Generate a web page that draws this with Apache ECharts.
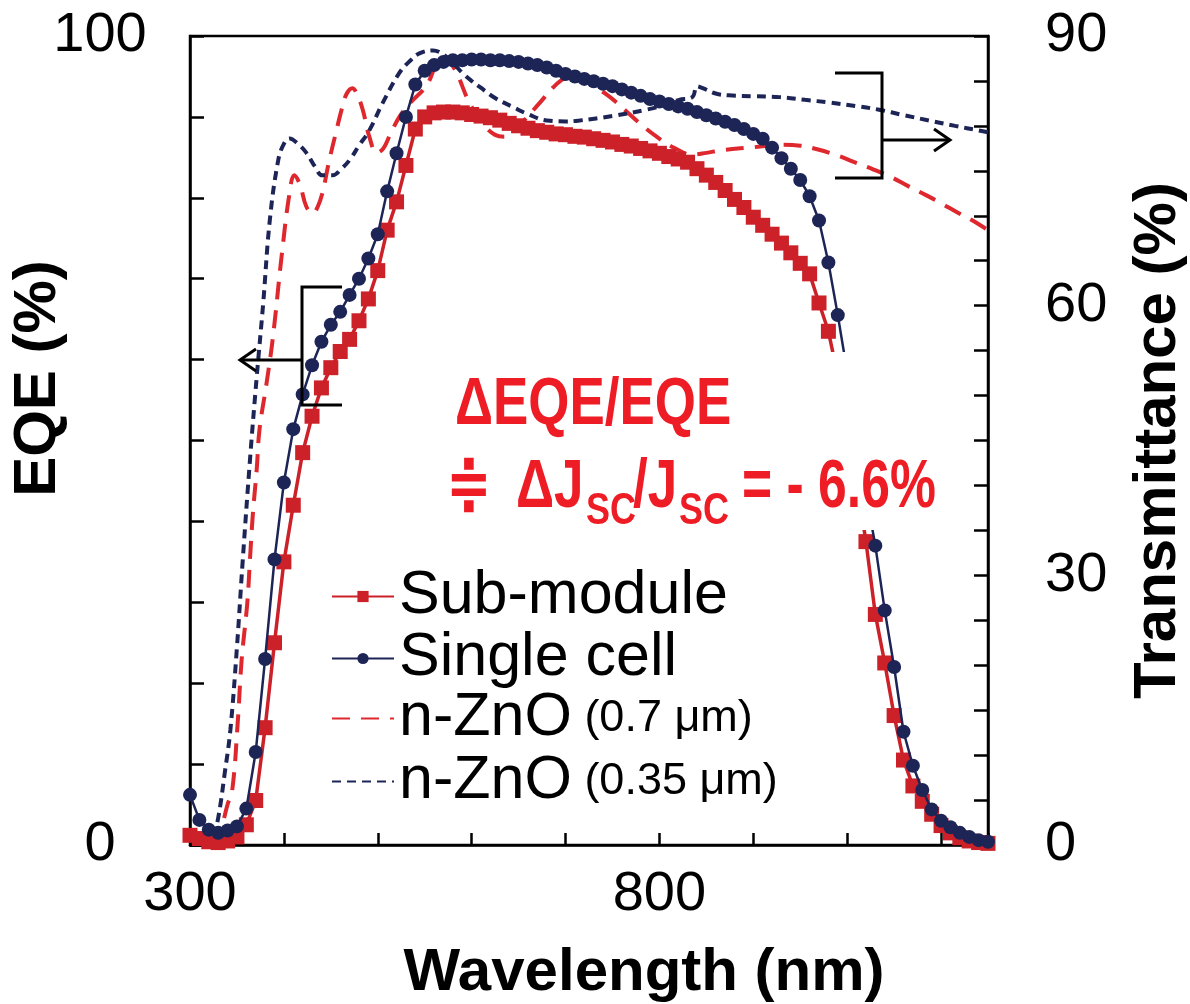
<!DOCTYPE html>
<html><head><meta charset="utf-8">
<script src="https://cdn.jsdelivr.net/npm/echarts/dist/echarts.min.js"></script>
<style>html,body{margin:0;padding:0;background:#fff}#c{width:1190px;height:1004px}</style>
</head><body><div id="c"></div>
<script>
// ---- data ----
const wavelength = [300,310,320,330,340,350,360,370,380,390,
  400,410,420,430,440,450,460,470,480,490,
  500,510,520,530,540,550,560,570,580,590,
  600,610,620,630,640,650,660,670,680,690,
  700,710,720,730,740,750,760,770,780,790,
  800,810,820,830,840,850,860,870,880,890,
  900,910,920,930,940,950,960,970,980,990,
  1000,1010,1020,1030,1040,1050,1060,1070,1080,1090,
  1100,1110,1120,1130,1140,1150];
const eqeSubModule = [1.2,0.8,0.4,0.3,0.5,1.0,2.5,5.5,14.5,25.0,
  35.0,42.0,48.5,53.0,56.5,59.0,61.0,62.5,64.8,67.5,
  71.0,76.0,79.5,84.0,88.5,90.0,90.5,90.6,90.6,90.5,
  90.3,90.1,89.9,89.6,89.2,88.9,88.6,88.3,88.1,87.9,
  87.8,87.6,87.5,87.3,87.1,86.9,86.6,86.4,86.1,85.8,
  85.5,85.1,84.8,84.4,83.6,82.8,81.9,80.9,79.8,78.8,
  77.6,76.6,75.5,74.4,73.2,71.9,70.6,67.0,63.5,58.0,
  52.0,45.0,37.5,28.5,22.5,16.0,10.5,7.3,5.4,3.8,
  2.4,1.5,0.9,0.5,0.3,0.2];
const eqeSingleCell = [6.2,3.1,1.9,1.5,1.8,2.3,4.5,11.5,23.0,35.3,
  44.8,51.4,55.7,59.3,62.2,64.3,65.9,68.0,70.0,72.5,
  75.5,80.8,85.5,90.0,94.0,95.7,96.4,96.8,97.0,97.0,
  97.1,97.1,97.0,97.0,96.9,96.8,96.6,96.4,96.1,95.7,
  95.3,95.0,94.7,94.4,94.1,93.8,93.4,93.0,92.6,92.2,
  91.9,91.6,91.3,91.0,90.6,90.2,89.8,89.4,89.0,88.5,
  87.9,87.3,86.2,84.9,83.6,82.2,80.2,77.2,72.0,65.5,
  58.5,51.0,43.5,37.0,29.0,22.0,14.0,9.8,6.8,4.4,
  3.0,2.2,1.5,1.0,0.6,0.4];
// transmittance curves: [wavelength nm, T %]
const transZnO07 = [[322,0.3],[330,1],[335,2.5],[340,4.5],[345,6.1],[351,13.9],[355,20.6],[361,26.9],[364,32],[367,36.9],[371,41.7],[374,46.2],[381,51],[388,56.2],[398,65.9],[406,72.5],[411,74.5],[417,73.5],[424,71],[431,70.3],[436,71],[441,72.5],[448,76],[456,79.5],[462,82],[467,83.6],[473,84.2],[478,83.5],[484,81.8],[491,78.8],[499,77],[506,77.5],[513,79],[523,81],[534,82.5],[552,84.5],[562,86.8],[569,87.7],[576,87.2],[584,85.9],[598,82.5],[614,80],[625,79],[635,78.8],[650,80],[672,82.5],[687,84.3],[699,85.3],[710,85.5],[722,84.9],[745,83.4],[765,81.6],[780,80.2],[797,78.8],[815,77.6],[835,76.8],[850,77],[866,77.3],[898,77.6],[930,77.9],[950,77.8],[968,77.4],[990,76.7],[1007,76],[1027,75.2],[1047,74.3],[1065,73.3],[1084,72.3],[1100,71.4],[1117,70.4],[1135,69.4],[1150,68.4]];
const transZnO035 = [[310,0.2],[318,0.5],[325,1.2],[330,3],[337,8],[343,12.8],[350,22],[356,31.4],[364,43],[371,52],[378,60.3],[385,69.5],[394,76.2],[400,78],[406,78.6],[415,78],[424,77],[433,75.5],[441,74.5],[452,74.5],[461,75.2],[470,76.2],[480,77.8],[491,79.5],[505,82.5],[523,85.9],[535,87.3],[545,88.1],[559,88.4],[566,88.2],[573,87.7],[582,86.8],[590,85.9],[600,85],[609,84.3],[625,83.1],[644,82.1],[660,81.3],[680,80.6],[700,80.5],[715,80.6],[750,81.1],[786,81.8],[805,82.3],[821,82.9],[835,83.2],[840,84.4],[846,84.2],[860,83.6],[874,83.4],[900,83.3],[928,83.2],[955,82.9],[981,82.6],[1010,82.2],[1034,81.8],[1060,81.2],[1087,80.6],[1115,80],[1140,79.5],[1150,79.3]];
const seriesNames = ['Sub-module','Single cell','n-ZnO (0.7 μm)','n-ZnO (0.35 μm)'];
const wlLabels = [300, 800];
const eqeLabels = [0, 100];
const transLabels = [0, 30, 60, 90];

// ---- styles ----
const RED = '#cc2129', NAVY = '#1d2456', DRED = '#de282e', ANN = '#ee1c25';
const FF = '"Liberation Sans", Arial, sans-serif';
const chart = echarts.init(document.getElementById('c'), null, {renderer: 'canvas'});
const axisLineStyle = {color: '#000', width: 2.5};
const tickFont = {color: '#000', fontSize: 56, fontFamily: FF};
const annText = (txt, x, y, size, sx, family) => ({
  type: 'text', z: 101, x: x, y: y, scaleX: sx, originX: 0, originY: 0,
  style: {text: txt, fill: ANN, fontSize: size, fontWeight: 'bold', fontFamily: family || FF, verticalAlign: 'middle', align: 'left'}
});
const legendText = {fontSize: 61, color: '#000', fontFamily: FF,
  rich: {a: {fontSize: 61, color: '#000', fontFamily: FF}, b: {fontSize: 45, color: '#000', fontFamily: FF}}};
const legendFmt = function (name) {
  const m = name.match(/^(n-ZnO)\s(\(.*\))$/);
  return m ? '{a|' + m[1] + '}{b| ' + m[2] + '}' : '{a|' + name + '}';
};
const legendTops = [561, 623, 683, 746];
const legends = seriesNames.map((n, i) => ({
  orient: 'vertical', left: 326, top: legendTops[i], itemWidth: 62, itemHeight: 14,
  data: [i < 2 ? {name: n} : {name: n, itemStyle: {opacity: 0}}],
  textStyle: legendText, formatter: legendFmt, selectedMode: false
}));

chart.setOption({
  animation: false,
  backgroundColor: '#fff',
  textStyle: {fontFamily: FF},
  grid: {left: 190, right: 202, top: 36, bottom: 159, show: true, borderColor: '#000', borderWidth: 2.5, backgroundColor: 'transparent', containLabel: false, outerBoundsMode: 'none'},
  legend: legends,
  xAxis: {
    type: 'value', min: 300, max: 1150, interval: 100,
    name: 'Wavelength (nm)', nameLocation: 'middle', nameGap: 98,
    nameTextStyle: {fontSize: 60, fontWeight: 'bold', color: '#000', fontFamily: FF, padding: [0, 0, 0, 110]},
    axisLine: {show: true, lineStyle: axisLineStyle},
    axisTick: {show: true, inside: true, length: 12, lineStyle: {color: '#000', width: 2.5}},
    axisLabel: Object.assign({margin: 22, formatter: v => wlLabels.includes(v) ? String(v) : ''}, tickFont),
    splitLine: {show: false}
  },
  yAxis: [{
    type: 'value', min: 0, max: 100, interval: 10, position: 'left',
    name: 'EQE (%)', nameLocation: 'middle', nameRotate: 90, nameGap: 122, nameMoveOverlap: false,
    nameTextStyle: {fontSize: 60, fontWeight: 'bold', color: '#000', fontFamily: FF, padding: [0, 0, 0, 124]},
    axisLine: {show: true, lineStyle: axisLineStyle},
    axisTick: {show: true, inside: true, length: 14, lineStyle: {color: '#000', width: 2.5}},
    axisLabel: Object.assign({margin: 90, align: 'center', formatter: v => eqeLabels.includes(v) ? String(v) : ''}, tickFont),
    splitLine: {show: false}
  }, {
    type: 'value', min: 0, max: 90, interval: 5, position: 'right',
    name: 'Transmittance (%)', nameLocation: 'middle', nameRotate: 90, nameGap: 140, nameMoveOverlap: false,
    nameTextStyle: {fontSize: 60, fontWeight: 'bold', color: '#000', fontFamily: FF},
    axisLine: {show: true, lineStyle: axisLineStyle},
    axisTick: {show: true, inside: true, length: 14, lineStyle: {color: '#000', width: 2.5}},
    axisLabel: Object.assign({margin: 57, formatter: v => transLabels.includes(v) ? String(v) : ''}, tickFont),
    splitLine: {show: false}
  }],
  series: [{
    name: seriesNames[0], type: 'line', yAxisIndex: 0,
    data: wavelength.map((w, i) => [w, eqeSubModule[i]]),
    symbol: 'rect', symbolSize: 15, showAllSymbol: true,
    lineStyle: {color: RED, width: 3.5}, itemStyle: {color: RED}, z: 3
  }, {
    name: seriesNames[1], type: 'line', yAxisIndex: 0,
    data: wavelength.map((w, i) => [w, eqeSingleCell[i]]),
    symbol: 'circle', symbolSize: 14, showAllSymbol: true,
    lineStyle: {color: NAVY, width: 2.5}, itemStyle: {color: NAVY}, z: 4
  }, {
    name: seriesNames[2], type: 'line', yAxisIndex: 1,
    data: transZnO07, smooth: 0.4, symbol: 'none', showSymbol: false,
    lineStyle: {color: DRED, width: 4, type: [18, 11]}, itemStyle: {color: DRED}, z: 2
  }, {
    name: seriesNames[3], type: 'line', yAxisIndex: 1,
    data: transZnO035, smooth: 0.4, symbol: 'none', showSymbol: false,
    lineStyle: {color: NAVY, width: 4, type: [9, 6]}, itemStyle: {color: NAVY}, z: 2
  }],
  graphic: [
    {type: 'rect', z: 100, shape: {x: 440, y: 352, width: 520, height: 178}, style: {fill: '#fff'}},
    annText('ΔEQE/EQE', 455, 406, 67, 0.79),
    annText('≑', 446, 488, 64, 0.85, '"DejaVu Sans", sans-serif'),
    annText('ΔJ', 516, 488, 68, 0.78),
    annText('SC', 586, 512, 45, 0.8),
    annText('/J', 633, 488, 68, 0.78),
    annText('SC', 679, 512, 45, 0.8),
    annText('= - 6.6%', 742, 488, 68, 0.76),
    // brackets with arrows
    {type: 'polyline', z: 50, shape: {points: [[342, 287], [302, 287], [302, 405], [342, 405]]}, style: {stroke: '#000', lineWidth: 3, fill: null}},
    {type: 'polyline', z: 50, shape: {points: [[302, 360], [240, 360]]}, style: {stroke: '#000', lineWidth: 3, fill: null}},
    {type: 'polyline', z: 50, shape: {points: [[256, 349], [240, 360], [256, 371]]}, style: {stroke: '#000', lineWidth: 3, fill: null}},
    {type: 'polyline', z: 50, shape: {points: [[835, 73], [882, 73], [882, 178], [835, 178]]}, style: {stroke: '#000', lineWidth: 3, fill: null}},
    {type: 'polyline', z: 50, shape: {points: [[882, 140], [950, 140]]}, style: {stroke: '#000', lineWidth: 3, fill: null}},
    {type: 'polyline', z: 50, shape: {points: [[934, 129], [950, 140], [934, 151]]}, style: {stroke: '#000', lineWidth: 3, fill: null}}
  ]
});
</script>
</body></html>
